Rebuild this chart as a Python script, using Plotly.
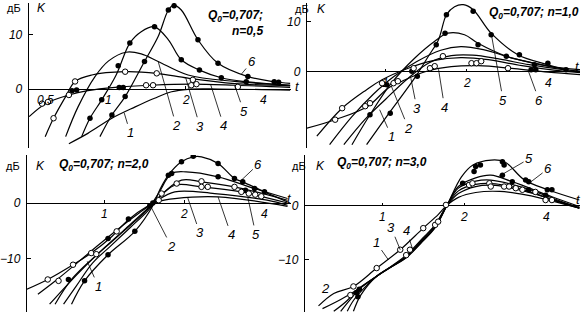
import math
import plotly.graph_objects as go

W, H = 582, 316

# ============================ DATA ============================
# t = relative frequency, K = gain in dB; six curves per panel
# ---- Panel 1: Q0 = 0,707 ; n = 0,5
P1_T = [
    [0.70, 0.83, 1.03, 1.27, 1.51, 1.76, 2.04, 2.67, 5.10],
    [0.49, 0.574, 0.70, 0.83, 1.06, 1.47, 2.10, 3.10, 5.10],
    [0.566, 0.61, 0.68, 0.74, 0.86, 1.16, 1.54, 2.04, 3.10, 5.10],
    [0.68, 0.76, 0.885, 1.00, 1.17, 1.34, 1.56, 2.04, 3.10, 5.10],
    [0.785, 0.846, 0.94, 1.07, 1.21, 1.34, 1.51, 1.71, 1.92, 2.26, 2.79, 3.44, 5.10],
    [0.925, 1.03, 1.16, 1.38, 1.56, 1.71, 1.79, 1.92, 2.23, 2.67, 3.49, 4.42, 5.10],
]
P1_K = [
    [-10.1, -8.2, -5.4, -3.3, -1.7, -0.5, -0.05, 0.0, -0.2],
    [-5.1, -2.6, -1.1, -0.3, 0.3, 0.7, 0.9, 0.7, 0.3],
    [-8.8, -5.4, -1.4, 1.4, 2.6, 3.2, 2.9, 2.0, 1.0, 0.6],
    [-8.8, -3.3, 2.3, 5.2, 6.8, 6.5, 5.1, 2.6, 1.4, 0.7],
    [-8.8, -5.4, -2.0, 2.6, 8.5, 10.6, 11.5, 9.1, 5.4, 3.5, 2.0, 1.35, 0.7],
    [-8.8, -4.8, -1.4, 5.1, 9.7, 14.6, 15.5, 14.6, 9.1, 4.75, 2.3, 1.35, 1.05],
]
P1_FILLED_T = [0.72, 0.75, 0.846, 0.94, 1.09, 1.21, 1.51, 1.92, 2.26, 2.75, 3.44,
               1.03, 1.16, 1.38, 1.71, 1.80, 2.23, 2.67, 3.49, 4.42, 4.60, 1.10, 1.14]
P1_FILLED_K = [-0.3, -0.2, -5.4, -2.0, 4.3, 8.5, 11.5, 5.4, 3.5, 2.1, 1.35,
               -4.8, -1.4, 5.1, 14.6, 15.4, 9.1, 4.75, 2.3, 1.35, 1.25, 0.3, 0.3]
P1_OPEN_T = [0.55, 0.58, 0.61, 0.74, 0.70, 1.16, 1.54, 1.40, 1.49, 2.13, 2.10, 2.20, 3.19]
P1_OPEN_K = [-2.7, -2.4, -5.4, 1.4, -1.1, 3.2, 2.9, 0.7, 0.7, 1.7, 0.7, 0.9, 0.4]

# ---- Panel 2: Q0 = 0,707 ; n = 1,0
P2_T = [
    [0.51, 0.65, 0.86, 1.02, 1.15, 1.40, 1.75, 2.20, 3.00, 4.00, 5.25],
    [0.556, 0.69, 0.85, 0.97, 1.20, 1.50, 1.90, 2.40, 3.20, 4.20, 5.25],
    [0.70, 0.84, 1.00, 1.20, 1.45, 1.75, 2.10, 2.60, 3.40, 4.40, 5.25],
    [0.62, 0.75, 0.90, 1.07, 1.30, 1.60, 1.90, 2.30, 3.00, 4.00, 5.25],
    [0.75, 0.875, 1.05, 1.28, 1.52, 1.70, 1.96, 2.20, 2.80, 3.56, 4.66],
    [0.85, 1.02, 1.28, 1.44, 1.57, 1.68, 1.80, 1.94, 2.11, 2.46, 3.09, 3.99, 4.66],
]
P2_K = [
    [-11.3, -9.6, -6.9, -3.3, -1.9, 0.0, 1.0, 1.2, 0.6, -0.1, -0.6],
    [-12.9, -7.3, -3.6, -1.6, 0.6, 2.2, 2.8, 2.4, 1.2, 0.3, -0.2],
    [-14.6, -9.5, -5.5, -1.5, 1.8, 3.2, 3.3, 2.6, 1.4, 0.5, 0.1],
    [-14.6, -9.0, -4.5, -1.0, 2.0, 4.3, 5.0, 4.4, 2.6, 1.1, 0.4],
    [-14.6, -8.6, -2.3, 2.7, 6.1, 7.7, 7.4, 5.7, 3.1, 1.7, 0.4],
    [-14.6, -8.6, -1.3, 3.1, 6.4, 11.4, 13.0, 13.4, 12.4, 7.7, 3.4, 1.4, 0.4],
]
P2_FILLED_T = [0.875, 1.04, 1.01, 1.25, 1.31, 1.54, 1.68, 2.11, 2.46, 1.66, 2.20,
               2.80, 3.13, 3.56, 3.99, 4.66, 3.46, 3.60]
P2_FILLED_K = [-8.6, -8.3, -2.6, 0.1, -0.9, 5.4, 11.4, 12.1, 7.4, 7.7, 5.4,
               3.1, 3.4, 1.4, 1.7, 0.4, 0.4, 0.4]
P2_OPEN_T = [0.65, 0.69, 0.84, 0.875, 0.97, 1.07, 1.11, 1.27, 1.46, 1.52, 1.63,
             2.08, 2.17, 2.26, 2.84]
P2_OPEN_K = [-9.6, -7.3, -6.9, -6.3, -2.3, -2.3, -1.9, 0.7, 0.7, 1.1, 3.1,
             1.7, 1.7, 2.1, 0.7]

# ---- Panel 3: Q0 = 0,707 ; n = 2,0
P3_T = [
    [0.509, 0.61, 0.76, 0.89, 1.05, 1.23, 1.45, 1.60, 1.84, 2.68, 4.90],
    [0.56, 0.66, 0.80, 0.95, 1.15, 1.35, 1.55, 1.84, 2.60, 4.10, 4.90],
    [0.62, 0.72, 0.86, 1.00, 1.20, 1.40, 1.55, 1.84, 2.32, 3.28, 4.90],
    [0.70, 0.78, 0.90, 1.05, 1.25, 1.45, 1.60, 1.95, 2.32, 3.09, 4.90],
    [0.65, 0.75, 0.90, 1.05, 1.25, 1.45, 1.60, 1.79, 2.03, 2.68, 3.68, 4.90],
    [0.75, 0.84, 1.03, 1.30, 1.52, 1.62, 1.74, 1.95, 2.16, 2.32, 2.68, 3.09, 3.32, 4.01, 4.90],
]
P3_K = [
    [-15.5, -13.75, -11.1, -9.0, -6.3, -3.0, -0.6, 0.3, 0.8, 1.1, -0.6],
    [-16.4, -13.8, -10.5, -7.5, -4.3, -1.8, 0.2, 2.0, 1.7, 0.5, -0.4],
    [-18.2, -14.8, -11.0, -8.0, -4.6, -1.7, 0.3, 3.2, 2.9, 2.0, 0.0],
    [-18.2, -15.0, -10.8, -7.8, -4.4, -1.5, 1.0, 4.1, 3.8, 2.9, 0.5],
    [-18.2, -13.75, -10.0, -7.2, -4.0, -1.2, 1.8, 5.3, 5.6, 4.7, 2.6, 0.8],
    [-18.2, -14.0, -9.3, -5.1, -0.5, 2.5, 5.0, 7.4, 8.3, 8.3, 7.1, 4.4, 3.8, 2.0, 0.2],
]
P3_FILLED_T = [0.73, 0.84, 1.03, 1.30, 1.03, 1.23, 1.48, 1.52, 1.57, 1.79, 1.74, 1.95,
               2.16, 2.68, 2.68, 3.09, 3.32, 3.68, 4.01, 3.40]
P3_FILLED_K = [-13.75, -14.0, -9.3, -5.1, -6.4, -2.9, -0.5, 0.0, 0.3, 5.3, 5.0, 7.4,
               8.4, 7.1, 4.7, 4.4, 3.8, 2.6, 2.0, 2.3]
P3_OPEN_T = [0.61, 0.67, 0.76, 0.89, 0.93, 1.11, 1.60, 1.64, 1.87, 2.32, 2.32, 2.45,
             3.09, 3.28, 3.50, 3.70, 3.90]
P3_OPEN_K = [-13.75, -14.0, -11.1, -9.0, -9.2, -5.1, 0.5, 1.7, 3.5, 3.9, 2.9, 2.9,
             2.9, 2.0, 1.7, 1.5, 1.2]

# ---- Panel 4: Q0 = 0,707 ; n = 3,0
P4_T = [
    [0.58, 0.66, 0.78, 0.95, 1.16, 1.41, 1.60, 1.72, 1.90, 2.20, 2.70, 3.40, 4.30, 5.30],
    [0.60, 0.70, 0.80, 0.95, 1.22, 1.40, 1.56, 1.72, 1.90, 2.20, 2.60, 3.40, 4.30, 5.30],
    [0.66, 0.74, 0.80, 0.95, 1.22, 1.40, 1.56, 1.72, 1.90, 2.20, 2.60, 3.40, 4.30, 5.30],
    [0.70, 0.76, 0.82, 0.95, 1.22, 1.40, 1.56, 1.72, 1.90, 2.20, 2.50, 3.30, 4.30, 5.30],
    [0.74, 0.78, 0.85, 0.95, 1.22, 1.40, 1.56, 1.72, 1.90, 2.20, 2.50, 3.00, 4.20, 5.30],
    [0.78, 0.83, 0.95, 1.22, 1.40, 1.56, 1.72, 1.95, 2.15, 2.51, 2.81, 3.33, 4.06, 5.30],
]
P4_K = [
    [-18.5, -16.2, -14.9, -11.5, -8.1, -4.1, -1.6, 0.1, 1.6, 2.5, 2.7, 2.0, 0.8, -0.4],
    [-19.0, -17.3, -15.6, -13.0, -9.1, -6.0, -3.5, 0.0, 2.3, 3.6, 3.8, 2.6, 1.1, -0.3],
    [-19.5, -17.5, -15.6, -13.0, -9.3, -6.2, -3.6, 0.0, 2.8, 4.0, 4.1, 2.8, 1.0, -0.4],
    [-19.5, -17.3, -15.4, -13.0, -9.4, -6.4, -3.8, 0.0, 3.3, 4.6, 4.8, 3.4, 1.3, -0.4],
    [-19.5, -17.5, -15.3, -13.0, -9.5, -6.5, -3.9, 0.0, 3.6, 5.2, 5.7, 4.5, 1.7, -0.1],
    [-19.5, -16.5, -13.0, -9.6, -6.6, -4.0, 0.0, 5.4, 7.6, 8.5, 8.2, 4.8, 3.0, 1.1],
]
P4_FILLED_T = [0.80, 0.81, 0.82, 1.97, 2.17, 2.20, 2.29, 2.76, 2.80, 2.76, 3.00,
               3.36, 3.45, 4.04, 4.20, 3.45, 3.98]
P4_FILLED_K = [-16.0, -16.8, -15.4, 4.2, 6.4, 7.3, 7.6, 8.2, 7.6, 5.7, 4.5,
               4.8, 4.5, 3.0, 3.0, 3.0, 2.0]
P4_OPEN_T = [0.76, 0.78, 0.95, 1.16, 1.41, 1.22, 1.26, 1.56, 1.60, 1.71,
             2.08, 2.14, 2.47, 2.50, 2.80, 2.92, 3.09, 3.27, 3.65, 3.98, 4.20]
P4_OPEN_K = [-16.5, -14.9, -11.5, -8.1, -4.1, -9.1, -8.1, -3.5, -2.9, 0.2,
             3.9, 4.2, 4.2, 3.6, 3.6, 3.6, 3.3, 3.0, 2.6, 1.1, 1.1]

CURVE_LABELS = ["1", "2", "3", "4", "5", "6"]
# points on the curves that the numbered leader lines point to
P1_LAB_T = [1.15, 1.56, 2.00, 2.50, 3.10, 3.30]
P1_LAB_K = [-4.4, 5.1, 2.0, 0.8, 0.7, 2.8]
P2_LAB_T = [0.95, 1.05, 1.24, 1.57, 2.46, 3.37]
P2_LAB_K = [-7.6, -2.9, -1.3, 0.5, 7.7, 0.3]
P3_LAB_T = [0.86, 1.50, 2.06, 2.68, 3.47, 3.28]
P3_LAB_K = [-10.5, -0.8, 0.9, 1.1, 1.0, 4.1]
P4_LAB_T = [1.05, 0.63, 1.16, 1.29, 2.66, 3.52]
P4_LAB_K = [-10.0, -16.9, -8.1, -8.1, 5.4, 4.5]

TITLES = ["Q<sub>0</sub>=0,707;<br>n=0,5", "Q<sub>0</sub>=0,707; n=1,0",
          "Q<sub>0</sub>=0,707; n=2,0", "Q<sub>0</sub>=0,707; n=3,0"]
X_TICKS = [0.5, 1, 2, 4]
X_TICK_TEXT = ["0,5", "1", "2", "4"]
Y_TICKS = [[0, 10], [0, 10], [0, -10], [0, -10]]
Y_TICK_TEXT = [["0", "10"], ["0", "10"], ["0", "\u221210"], ["0", "\u221210"]]

# ============================ LAYOUT SPECS ============================
# pixel box of each panel: (left, right, top, bottom), and axis ranges
PANELS = [
    dict(box=(27, 290, 3, 148), t=(0.489, 5.14), k=(-10.9, 15.9)),
    dict(box=(306, 580, 3, 148), t=(0.511, 5.25), k=(-15.26, 13.74)),
    dict(box=(25, 290, 155, 312), t=(0.509, 5.05), k=(-19.6, 8.63)),
    dict(box=(304, 580, 155, 312), t=(0.517, 5.33), k=(-19.63, 9.44)),
]
DATA = [
    (P1_T, P1_K, P1_FILLED_T, P1_FILLED_K, P1_OPEN_T, P1_OPEN_K, P1_LAB_T, P1_LAB_K),
    (P2_T, P2_K, P2_FILLED_T, P2_FILLED_K, P2_OPEN_T, P2_OPEN_K, P2_LAB_T, P2_LAB_K),
    (P3_T, P3_K, P3_FILLED_T, P3_FILLED_K, P3_OPEN_T, P3_OPEN_K, P3_LAB_T, P3_LAB_K),
    (P4_T, P4_K, P4_FILLED_T, P4_FILLED_K, P4_OPEN_T, P4_OPEN_K, P4_LAB_T, P4_LAB_K),
]
# pixel offsets of label text from the leader target
LAB_OFFSETS = [
    [(6, 20), (18, 64), (14, 48), (13, 41), (9, 26), (10, -12)],
    [(12, 27), (17, 42), (6, 30), (6, 38), (12, 67), (11, 30)],
    [(11, 25), (20, 39), (12, 35), (13, 38), (8, 37), (17, -16)],
    [(-12, -17), (-3, -9), (-9, -22), (-6, -19), (31, -18), (17, -13)],
]
TITLE_POS = [(264, 6, "right", "top", "right"), (581, 13, "right", "middle", "left"),
             (55, 165, "left", "middle", "left"), (334, 163, "left", "middle", "left")]
UNIT_POS = [((3, 8), (33, 8)), ((292, 9), (314, 9)), ((2, 166), (32, 166)), ((289, 166), (313, 166))]
T_LABEL_POS = [(297, 86), (577, 66), (288, 198), (578, 199)]

FONT = "Liberation Sans"
INK = "black"


def px(x):
    return x / W


def py(y):
    return 1 - y / H


fig = go.Figure()
annotations = []
layout_axes = {}

for i, (spec, dat) in enumerate(zip(PANELS, DATA)):
    n = "" if i == 0 else str(i + 1)
    xname, yname = "x" + n, "y" + n
    T, K, FT, FK, OT, OK, LT, LK = dat
    l, r, t, b = spec["box"]
    kmin, kmax = spec["k"]
    ydom = [py(b), py(t)]
    zero_pos = ydom[0] + (0 - kmin) / (kmax - kmin) * (ydom[1] - ydom[0])

    layout_axes["xaxis" + n] = dict(
        type="log", range=[math.log10(spec["t"][0]), math.log10(spec["t"][1])],
        domain=[px(l), px(r)], anchor="free", position=zero_pos,
        showgrid=False, zeroline=False, showline=False,
        tickvals=[1, 2], ticks="inside", ticklen=3, tickcolor=INK, tickwidth=1,
        showticklabels=False,
    )
    layout_axes["yaxis" + n] = dict(
        range=[kmin, kmax], domain=ydom, anchor=xname,
        showgrid=False, showline=True, linecolor=INK, linewidth=1.4,
        zeroline=True, zerolinecolor=INK, zerolinewidth=1.3,
        tickvals=Y_TICKS[i], ticktext=Y_TICK_TEXT[i], ticks="inside", ticklen=4,
        tickcolor=INK, ticklabelstandoff=3,
        tickfont=dict(family=FONT, size=12, color=INK, style="italic"),
    )

    for tt, kk in zip(T, K):
        fig.add_trace(go.Scatter(
            x=tt, y=kk, mode="lines", xaxis=xname, yaxis=yname,
            line=dict(color=INK, width=1.2, shape="spline", smoothing=1.0),
            hoverinfo="skip", showlegend=False))
    fig.add_trace(go.Scatter(
        x=FT, y=FK, mode="markers", xaxis=xname, yaxis=yname,
        marker=dict(size=5.5, color=INK, line=dict(width=0)),
        hoverinfo="skip", showlegend=False))
    fig.add_trace(go.Scatter(
        x=OT, y=OK, mode="markers", xaxis=xname, yaxis=yname,
        marker=dict(size=5.5, color="white", line=dict(color=INK, width=1)),
        hoverinfo="skip", showlegend=False))

    lab_font = dict(family=FONT, size=13, color=INK, style="italic")
    for txt, lt, lk, (ax, ay) in zip(CURVE_LABELS, LT, LK, LAB_OFFSETS[i]):
        annotations.append(dict(
            x=math.log10(lt), y=lk, xref=xname, yref=yname, text=txt,
            showarrow=True, arrowhead=0, arrowwidth=0.8, arrowcolor=INK,
            ax=ax, ay=ay, standoff=0, font=lab_font))

    tick_font = dict(family=FONT, size=12, color=INK, style="italic")
    for tv, tx in zip(X_TICKS, X_TICK_TEXT):
        annotations.append(dict(
            x=math.log10(tv), y=0, xref=xname, yref=yname, text=tx,
            showarrow=False, xanchor="left" if tv == 0.5 else "center",
            xshift=4 if tv == 0.5 else 0, yanchor="top", yshift=-2,
            font=tick_font))

    tx_, ty_, xa_, ya_, al_ = TITLE_POS[i]
    annotations.append(dict(
        x=px(tx_), y=py(ty_), xref="paper", yref="paper", text=TITLES[i],
        showarrow=False, xanchor=xa_, yanchor=ya_, align=al_,
        font=dict(family=FONT, size=12, color=INK, style="italic", weight="bold")))

    (dbx, dby), (kx, ky) = UNIT_POS[i]
    annotations.append(dict(
        x=px(dbx), y=py(dby), xref="paper", yref="paper", text="дБ",
        showarrow=False, xanchor="left", yanchor="middle",
        font=dict(family=FONT, size=11, color=INK)))
    annotations.append(dict(
        x=px(kx), y=py(ky), xref="paper", yref="paper", text="K",
        showarrow=False, xanchor="left", yanchor="middle",
        font=dict(family=FONT, size=12, color=INK, style="italic")))
    tlx, tly = T_LABEL_POS[i]
    annotations.append(dict(
        x=px(tlx), y=py(tly), xref="paper", yref="paper", text="t",
        showarrow=False, xanchor="center", yanchor="middle",
        font=dict(family=FONT, size=13, color=INK, style="italic")))

fig.update_layout(
    width=W, height=H, margin=dict(l=0, r=0, t=0, b=0),
    paper_bgcolor="white", plot_bgcolor="white",
    annotations=annotations, showlegend=False, **layout_axes,
)
fig.write_html("out.html")
